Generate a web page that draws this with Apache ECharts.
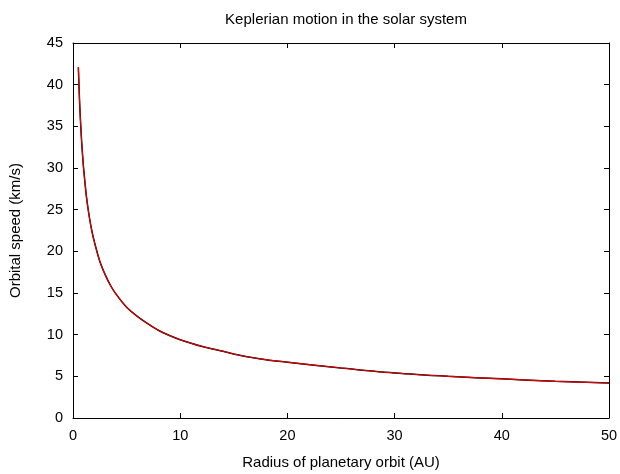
<!DOCTYPE html>
<html>
<head>
<meta charset="utf-8">
<script src="https://cdn.jsdelivr.net/npm/echarts@6/dist/echarts.min.js"></script>
<style>
  html, body { margin: 0; padding: 0; background: #fff; }
  #chart { width: 620px; height: 474px; }
</style>
</head>
<body>
<div id="chart"></div>
<script>
// radius of orbit (AU) and orbital speed (km/s)
const radius = [0.5, 0.6, 0.7, 0.8, 0.9, 1, 1.25, 1.5, 1.75, 2, 2.5, 3, 3.5, 4, 5, 6, 7, 8, 9, 10, 12, 14, 16, 18, 20, 25, 30, 35, 40, 45, 50];
const speed = [42.1, 38.4, 35.6, 33.3, 31.4, 29.8, 26.6, 24.3, 22.5, 21.1, 18.8, 17.2, 15.9, 14.9, 13.3, 12.2, 11.3, 10.5, 9.9, 9.4, 8.6, 8.0, 7.4, 7.0, 6.7, 6.0, 5.4, 5.0, 4.7, 4.4, 4.2];
const xTicks = [0, 10, 20, 30, 40, 50];
const yTicks = [0, 5, 10, 15, 20, 25, 30, 35, 40, 45];

const points = radius.map((r, i) => [r, speed[i]]);
const font = "Liberation Sans, Arial, sans-serif";

const chart = echarts.init(document.getElementById("chart"));

const tickStyle = { show: true, inside: true, length: 5, lineStyle: { color: "#000", width: 1 } };
const lineStyle = { show: true, onZero: false, lineStyle: { color: "#000", width: 1 } };

chart.setOption({
    animation: false,
    title: {
        text: "Keplerian motion in the solar system",
        left: 341,
        textAlign: "center",
        top: 7,
        textStyle: { fontFamily: font, fontSize: 15, fontWeight: "normal", color: "#000" }
    },
    grid: { left: 73, right: 11, top: 43, bottom: 56, outerBoundsMode: "none", containLabel: false },
    xAxis: [
        {
            type: "value",
            min: xTicks[0],
            max: xTicks[xTicks.length - 1],
            interval: 10,
            name: "Radius of planetary orbit (AU)",
            nameLocation: "middle",
            nameGap: 37,
            nameTextStyle: { fontFamily: font, fontSize: 15, color: "#000" },
            axisLine: lineStyle,
            axisTick: tickStyle,
            axisLabel: { fontFamily: font, fontSize: 14.5, color: "#000", margin: 10 },
            splitLine: { show: false }
        },
        {
            type: "value",
            position: "top",
            min: xTicks[0],
            max: xTicks[xTicks.length - 1],
            interval: 10,
            axisLine: lineStyle,
            axisTick: tickStyle,
            axisLabel: { show: false },
            splitLine: { show: false }
        }
    ],
    yAxis: [
        {
            type: "value",
            min: yTicks[0],
            max: yTicks[yTicks.length - 1],
            interval: 5,
            name: "Orbital speed (km/s)",
            nameLocation: "middle",
            nameGap: 50,
            nameTextStyle: { fontFamily: font, fontSize: 15, color: "#000" },
            axisLine: lineStyle,
            axisTick: tickStyle,
            axisLabel: { fontFamily: font, fontSize: 14.5, color: "#000", margin: 10 },
            splitLine: { show: false }
        },
        {
            type: "value",
            position: "right",
            min: yTicks[0],
            max: yTicks[yTicks.length - 1],
            interval: 5,
            axisLine: lineStyle,
            axisTick: tickStyle,
            axisLabel: { show: false },
            splitLine: { show: false }
        }
    ],
    series: [
        {
            type: "line",
            data: points,
            smooth: 0.3,
            showSymbol: false,
            lineStyle: { color: "#000", width: 1.5 }
        },
        {
            type: "line",
            data: points,
            smooth: 0.3,
            showSymbol: false,
            lineStyle: { color: "#e00000", width: 1.1 }
        }
    ]
});
</script>
</body>
</html>
